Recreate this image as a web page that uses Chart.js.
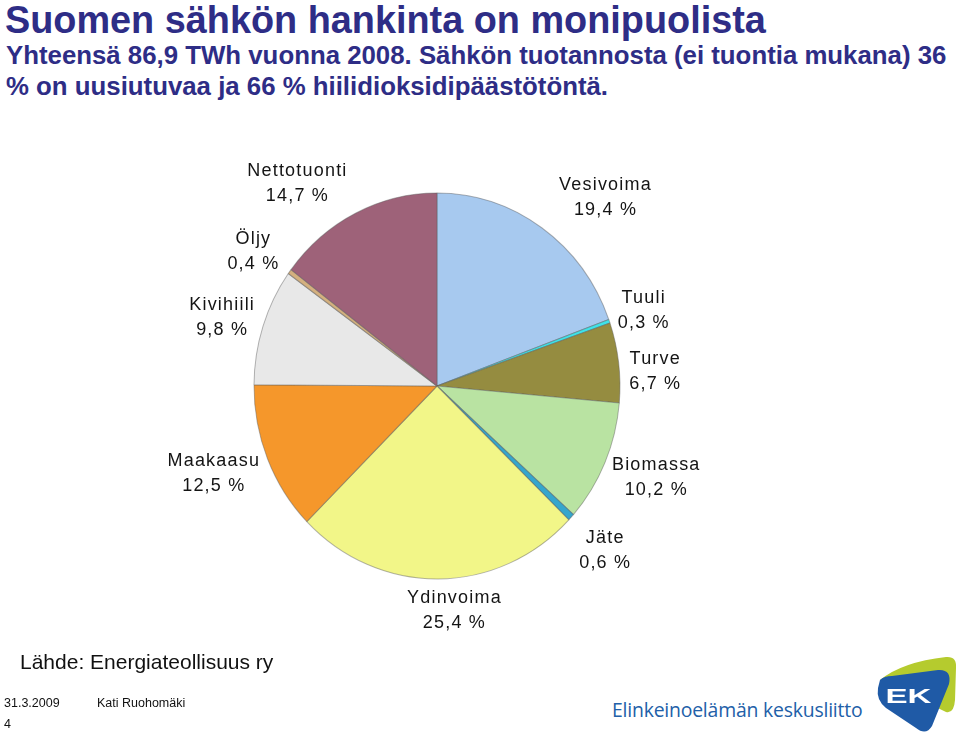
<!DOCTYPE html>
<html><head><meta charset="utf-8">
<script src="https://cdn.jsdelivr.net/npm/chart.js@4/dist/chart.umd.min.js"></script>
<style>
html,body{margin:0;padding:0;background:#fff;width:960px;height:739px;overflow:hidden;font-family:"Liberation Sans",Arial,sans-serif;}
.t{position:absolute;white-space:nowrap;line-height:1;}
#title{left:5px;top:0px;font-size:39px;font-weight:bold;color:#2E2D86;transform:scaleX(0.97);transform-origin:0 0;}
#sub1{left:6px;top:43px;font-size:25.8px;font-weight:bold;color:#2E2D86;}
#sub2{left:6px;top:74px;font-size:25.8px;font-weight:bold;color:#2E2D86;}
#src{left:20px;top:651px;font-size:21px;color:#111;}
#date{left:4px;top:697px;font-size:12.5px;color:#111;}
#auth{left:97px;top:697px;font-size:12.5px;color:#111;}
#pg{left:4px;top:718px;font-size:12.5px;color:#111;}
#ek{left:612px;top:700px;font-size:19.4px;color:#2260A8;font-family:"Open Sans","Liberation Sans",sans-serif;letter-spacing:-0.2px;}
#wrap{position:absolute;left:0;top:110px;width:874px;height:552px;}
#logo{position:absolute;left:872px;top:650px;}
</style></head><body>
<div class="t" id="title">Suomen sähkön hankinta on monipuolista</div>
<div class="t" id="sub1">Yhteensä 86,9 TWh vuonna 2008. Sähkön tuotannosta (ei tuontia mukana) 36</div>
<div class="t" id="sub2">% on uusiutuvaa ja 66 % hiilidioksidipäästötöntä.</div>
<div id="wrap"><canvas id="c" width="874" height="552"></canvas></div>
<div class="t" id="src">Lähde: Energiateollisuus ry</div>
<div class="t" id="date">31.3.2009</div>
<div class="t" id="auth">Kati Ruohomäki</div>
<div class="t" id="pg">4</div>
<div class="t" id="ek">Elinkeinoelämän keskusliitto</div>
<svg id="logo" width="88" height="89" viewBox="0 0 88 89">
  <path d="M8 30 Q30 12 74 7 Q85 6 84 18 L83 50 Q82 64 74 62 Z" fill="#B5CB2E"/>
  <path d="M8 30 Q12 26 20 26 L66 20 Q80 19 77 34 L60 76 Q54 86 44 78 L14 58 Q4 50 6 38 Z" fill="#1F5AA6"/>
  <text x="36.5" y="53" font-family="Liberation Sans,Arial" font-weight="bold" font-size="20" fill="#fff" text-anchor="middle" textLength="46" lengthAdjust="spacingAndGlyphs">EK</text>
</svg>
<script>
const categories = ["Vesivoima","Tuuli","Turve","Biomassa","Jäte","Ydinvoima","Maakaasu","Kivihiili","Öljy","Nettotuonti"];
const shares = [19.4, 0.3, 6.7, 10.2, 0.6, 25.4, 12.5, 9.8, 0.4, 14.7];
const valueLabels = ["19,4 %","0,3 %","6,7 %","10,2 %","0,6 %","25,4 %","12,5 %","9,8 %","0,4 %","14,7 %"];
const colors = ["#A7C9EF","#3FE3E8","#958C40","#B9E3A2","#35A6CC","#F2F688","#F5972B","#E8E8E8","#D4B07F","#9E6279"];
const labelNudge = [[38,8],[-8,5],[-8,14],[10,-4],[1,1],[16,-16],[-12,-4],[2,5],[0,8],[-38,12]];
const yStretch = 193/183;
const labelGap = 45;

const ellipse = {
  id:'ellipse',
  beforeDatasetsDraw(chart){
    const a = chart.getDatasetMeta(0).data[0];
    const ctx = chart.ctx; ctx.save();
    ctx.translate(a.x, a.y); ctx.scale(1, yStretch); ctx.translate(-a.x, -a.y);
  },
  afterDatasetsDraw(chart){
    chart.ctx.restore();
    const ctx = chart.ctx;
    const meta = chart.getDatasetMeta(0);
    ctx.save();
    ctx.font = '18px "Liberation Sans", Arial, sans-serif';
    ctx.letterSpacing = '1.2px';
    ctx.fillStyle = '#141414';
    ctx.textAlign = 'center'; ctx.textBaseline = 'middle';
    meta.data.forEach((arc, i) => {
      const mid = (arc.startAngle + arc.endAngle) / 2;
      const d = arc.outerRadius + labelGap;
      const x = arc.x + Math.cos(mid) * d + labelNudge[i][0];
      const y = arc.y + Math.sin(mid) * d * yStretch + labelNudge[i][1];
      ctx.fillText(categories[i], x, y - 12);
      ctx.fillText(valueLabels[i], x, y + 13);
    });
    ctx.restore();
  }
};

new Chart(document.getElementById('c'), {
  type: 'pie',
  data: { labels: categories, datasets: [{ data: shares, backgroundColor: colors, borderColor: 'rgba(90,90,90,0.45)', borderWidth: 1 }] },
  options: {
    responsive: false, animation: false,
    radius: 183,
    layout: { padding: 0 },
    plugins: { legend: { display: false }, tooltip: { enabled: false } }
  },
  plugins: [ellipse]
});
</script>
</body></html>
